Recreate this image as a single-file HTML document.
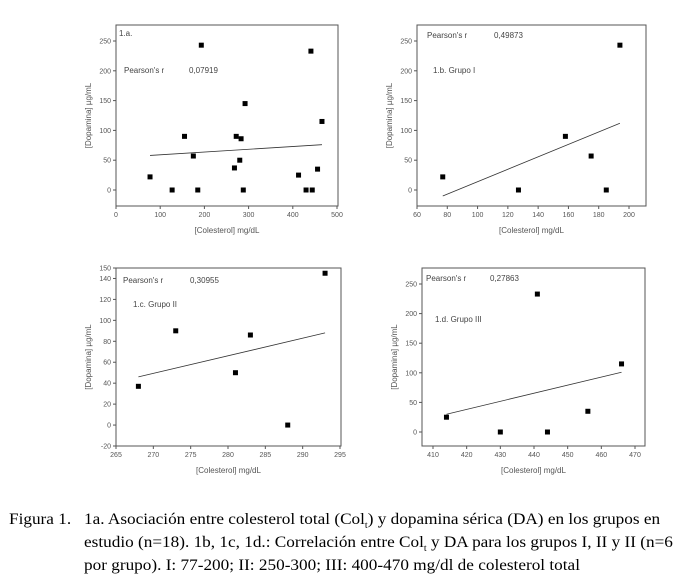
<!DOCTYPE html>
<html><head><meta charset="utf-8"><style>
body{margin:0;background:#fff;width:683px;height:587px;overflow:hidden;position:relative}
.cap{position:absolute;font-family:"Liberation Serif",serif;font-size:15.5px;color:#000;line-height:18px;transform:scaleX(1.11);transform-origin:0 0}
</style></head><body>
<svg id="s" width="683" height="500" style="position:absolute;left:0;top:0" font-family="Liberation Sans, sans-serif"></svg>
<div class="cap" style="left:9px;top:511px">Figura 1.</div>
<div class="cap" style="left:84px;top:511px;white-space:nowrap">1a. Asociación entre colesterol total (Col<sub style="font-size:9px">t</sub>) y dopamina sérica (DA) en los grupos en<br>estudio (n=18). 1b, 1c, 1d.: Correlación entre Col<sub style="font-size:9px">t</sub> y DA para los grupos I, II y II (n=6<br>por grupo). I: 77-200; II: 250-300; III: 400-470 mg/dl de colesterol total</div>
<script>
var s=document.getElementById('s'),h='';
function plot(c){
 var X=function(v){return c.x0+(v-c.xa)*(c.x1-c.x0)/(c.xb-c.xa)},Y=function(v){return c.y0+(v-c.ya)*(c.y1-c.y0)/(c.yb-c.ya)};
 h+='<rect x="'+c.L+'" y="'+c.T+'" width="'+(c.R-c.L)+'" height="'+(c.B-c.T)+'" fill="none" stroke="#555" stroke-width="1"/>';
 c.xt.forEach(function(v){var x=X(v);h+='<line x1="'+x+'" y1="'+c.B+'" x2="'+x+'" y2="'+(c.B+3)+'" stroke="#555"/><text x="'+x+'" y="'+(c.B+11)+'" font-size="7" fill="#555" text-anchor="middle">'+v+'</text>';});
 c.yt.forEach(function(v){var y=Y(v);h+='<line x1="'+(c.L-3)+'" y1="'+y+'" x2="'+c.L+'" y2="'+y+'" stroke="#555"/><text x="'+(c.L-5)+'" y="'+(y+2.5)+'" font-size="7" fill="#555" text-anchor="end">'+v+'</text>';});
 var yl=c.L-25,ym=(c.T+c.B)/2;
 h+='<text transform="translate('+yl+','+ym+') rotate(-90)" font-size="8" fill="#555" text-anchor="middle">[Dopamina] µg/mL</text>';
 h+='<text x="'+((c.L+c.R)/2)+'" y="'+(c.B+27)+'" font-size="8" fill="#555" text-anchor="middle">[Colesterol] mg/dL</text>';
 h+='<line x1="'+X(c.ln[0])+'" y1="'+Y(c.ln[1])+'" x2="'+X(c.ln[2])+'" y2="'+Y(c.ln[3])+'" stroke="#333" stroke-width="0.8"/>';
 c.p.forEach(function(p){h+='<rect x="'+(X(p[0])-2.5)+'" y="'+(Y(p[1])-2.5)+'" width="5" height="5" fill="#000"/>';});
 c.t.forEach(function(t){h+='<text x="'+t[0]+'" y="'+t[1]+'" font-size="8" fill="#444">'+t[2]+'</text>';});
}
plot({L:116,R:338,T:25,B:206,x0:116,x1:337,xa:0,xb:500,y0:190,y1:41,ya:0,yb:250,xt:[0,100,200,300,400,500],yt:[0,50,100,150,200,250],
 p:[[77,22],[127,0],[155,90],[175,57],[185,0],[193,243],[268,37],[272,90],[280,50],[283,86],[288,0],[292,145],[413,25],[430,0],[441,233],[444,0],[456,35],[466,115]],
 ln:[77,58,466,76],t:[[119,36,'1.a.'],[124,73,'Pearson\'s r'],[189,73,'0,07919']]});
plot({L:417,R:646,T:25,B:206,x0:417,x1:629,xa:60,xb:200,y0:190,y1:41,ya:0,yb:250,xt:[60,80,100,120,140,160,180,200],yt:[0,50,100,150,200,250],
 p:[[77,22],[127,0],[158,90],[175,57],[185,0],[194,243]],
 ln:[77,-10,194,112],t:[[427,38,'Pearson\'s r'],[494,38,'0,49873'],[433,73,'1.b. Grupo I']]});
plot({L:116,R:341,T:268,B:446,x0:116,x1:340,xa:265,xb:295,y0:446,y1:268,ya:-20,yb:150,xt:[265,270,275,280,285,290,295],yt:[-20,0,20,40,60,80,100,120,140,150],
 p:[[268,37],[273,90],[281,50],[283,86],[288,0],[293,145]],
 ln:[268,46,293,88],t:[[123,283,'Pearson\'s r'],[190,283,'0,30955'],[133,307,'1.c. Grupo II']]});
plot({L:422,R:645,T:268,B:446,x0:433,x1:635,xa:410,xb:470,y0:432,y1:284,ya:0,yb:250,xt:[410,420,430,440,450,460,470],yt:[0,50,100,150,200,250],
 p:[[414,25],[430,0],[441,233],[444,0],[456,35],[466,115]],
 ln:[414,30,466,101],t:[[426,281,'Pearson\'s r'],[490,281,'0,27863'],[435,322,'1.d. Grupo III']]});
s.innerHTML=h;
</script>
</body></html>
